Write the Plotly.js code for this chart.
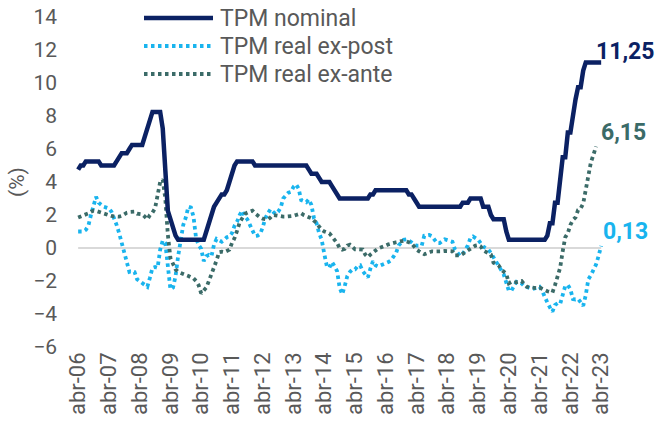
<!DOCTYPE html>
<html>
<head>
<meta charset="utf-8">
<script src="https://cdn.plot.ly/plotly-3.0.1.min.js"></script>
<style>html,body{margin:0;padding:0;background:#fff;}#chart{width:655px;height:432px;}</style>
</head>
<body>
<div id="chart"></div>
<script>
// Monthly data, abr-06 .. abr-23
var tickLabels = ['abr-06','abr-07','abr-08','abr-09','abr-10','abr-11','abr-12','abr-13','abr-14','abr-15','abr-16','abr-17','abr-18','abr-19','abr-20','abr-21','abr-22','abr-23'];

var tpmNominal = [
4.75,5.0,5.0,5.25,5.25,5.25,5.25,5.25,5.25,5.0,5.0,5.0,5.0,5.0,5.0,
5.25,5.5,5.75,5.75,5.75,6.0,6.25,6.25,6.25,6.25,6.25,6.75,7.25,7.75,8.25,8.25,8.25,8.25,
7.25,4.25,2.25,1.75,1.25,0.75,0.5,0.5,0.5,0.5,0.5,0.5,0.5,0.5,0.5,0.5,0.5,
1.0,1.5,2.0,2.5,2.75,3.0,3.25,3.25,3.5,4.0,4.5,5.0,
5.25,5.25,5.25,5.25,5.25,5.25,5.25,
5.0,5.0,5.0,5.0,5.0,5.0,5.0,5.0,5.0,5.0,5.0,5.0,5.0,5.0,5.0,5.0,5.0,5.0,5.0,5.0,5.0,
4.75,4.5,4.5,4.5,4.25,4.0,4.0,4.0,4.0,3.75,3.5,3.25,
3.0,3.0,3.0,3.0,3.0,3.0,3.0,3.0,3.0,3.0,3.0,3.0,
3.25,3.25,3.5,3.5,3.5,3.5,3.5,3.5,3.5,3.5,3.5,3.5,3.5,3.5,3.5,
3.25,3.25,3.0,2.75,
2.5,2.5,2.5,2.5,2.5,2.5,2.5,2.5,2.5,2.5,2.5,2.5,2.5,2.5,2.5,2.5,2.5,
2.75,2.75,2.75,3.0,3.0,3.0,3.0,3.0,2.5,2.5,2.5,2.0,1.75,1.75,1.75,1.75,1.75,1.0,
0.5,0.5,0.5,0.5,0.5,0.5,0.5,0.5,0.5,0.5,0.5,0.5,0.5,0.5,0.5,
0.75,1.5,1.5,2.75,2.75,4.0,5.5,5.5,7.0,7.0,8.25,9.0,9.75,9.75,10.75,
11.25,11.25,11.25,11.25,11.25,11.25,11.25
];

var tpmRealExPost = [
1.0,1.0,1.0,1.1,1.35,2.0,2.6,3.1,2.75,2.6,2.5,2.45,2.4,2.2,1.85,
1.4,0.9,0.3,-0.3,-0.9,-1.45,-1.4,-1.45,-1.9,-2.0,-2.1,-2.2,-2.35,-1.8,-1.2,-1.15,-1.2,-0.1,
0.45,0.3,-1.3,-2.5,-2.4,-1.7,-0.5,0.5,1.4,1.85,2.5,2.45,1.9,0.6,0.18,-0.05,-0.8,
-0.5,-0.42,-0.5,0.2,0.55,0.45,0.38,0.5,0.65,0.7,0.9,1.35,
1.6,2.0,2.26,1.9,1.74,1.4,1.0,
0.73,0.75,0.85,1.25,1.8,2.1,2.35,2.2,2.06,2.2,2.45,3.0,3.2,3.35,3.4,3.7,3.85,3.6,2.9,2.85,2.77,
2.95,2.6,1.8,1.5,0.9,0.5,-0.35,-1.1,-1.2,-0.85,-1.1,-1.4,
-2.4,-2.8,-2.3,-1.7,-1.45,-1.3,-1.3,-1.1,-1.05,-1.4,-1.6,-1.78,
-1.25,-0.8,-1.05,-1.12,-1.05,-1.0,-0.95,-0.85,-0.75,-0.5,-0.3,0.15,0.35,0.5,0.53,
0.47,0.35,0.22,0.14,
0.14,0.14,0.74,0.77,0.79,0.72,0.5,0.3,0.3,0.45,0.53,0.48,0.42,0.38,-0.1,-0.3,-0.48,
-0.35,-0.1,0.15,0.6,0.7,0.6,0.5,0.3,0.08,0.0,-0.1,-0.3,-0.55,-0.8,-1.05,-1.3,-1.6,-2.1,
-2.6,-2.58,-2.3,-2.05,-2.1,-2.15,-2.3,-2.38,-2.45,-2.49,-2.45,-2.41,-2.35,-2.6,-3.0,
-3.3,-3.6,-3.86,-3.45,-3.35,-3.4,-2.85,-2.3,-2.25,-2.5,-3.1,-3.12,-3.08,-3.3,-3.5,
-2.85,-1.9,-1.65,-1.35,-1.0,-0.48,0.13
];

var tpmRealExAnte = [
1.85,1.9,2.0,2.05,2.1,2.2,2.26,2.25,2.2,2.12,2.06,2.0,1.97,1.94,1.92,
1.9,1.9,1.95,2.05,2.14,2.18,2.2,2.2,2.08,2.06,2.04,1.9,1.74,2.0,2.15,2.4,3.3,4.0,
4.15,3.0,0.8,-0.6,-0.95,-1.3,-1.45,-1.5,-1.55,-1.62,-1.7,-1.78,-1.84,-2.0,-2.25,-2.75,-2.6,
-2.4,-2.0,-1.6,-1.3,-0.75,-0.25,-0.22,-0.25,-0.2,-0.1,0.3,0.6,
1.05,1.55,1.8,2.05,2.15,2.2,2.26,
2.1,1.95,1.86,1.78,1.72,1.72,1.85,2.0,1.98,1.94,1.92,1.9,1.9,1.9,1.9,1.95,2.0,2.05,2.1,2.0,1.95,
1.9,1.8,1.65,1.54,1.3,1.1,1.0,0.95,0.89,0.7,0.53,0.3,
0.0,-0.1,-0.05,0.15,0.2,0.05,-0.08,-0.08,-0.08,-0.1,-0.4,-0.55,
-0.4,-0.3,-0.15,-0.03,0.05,0.1,0.15,0.22,0.28,0.32,0.35,0.38,0.41,0.44,0.4,
0.33,0.28,0.1,-0.1,
-0.2,-0.3,-0.38,-0.32,-0.25,-0.2,-0.21,-0.22,-0.22,-0.2,-0.18,-0.17,-0.18,-0.2,-0.45,-0.47,-0.45,
-0.35,-0.25,-0.1,0.0,0.1,0.15,0.18,0.1,-0.15,-0.25,-0.32,-0.4,-0.89,-0.95,-1.05,-1.3,-1.45,-1.57,
-2.14,-2.05,-2.1,-2.05,-2.0,-2.0,-2.2,-2.35,-2.38,-2.4,-2.42,-2.44,-2.4,-2.45,-2.55,
-2.62,-2.67,-2.7,-2.25,-1.75,-1.2,-0.2,0.65,0.9,1.4,1.7,1.85,2.3,2.4,2.7,
3.6,4.5,5.2,5.65,6.15
];

var seriesNames = ['TPM nominal','TPM real ex-post','TPM real ex-ante'];
var colors = ['#0B2163','#19B4EE','#3B6B68'];
var labelTexts = ['11,25','6,15','0,13'];

function idx(arr){ return arr.map(function(_, i){ return i; }); }

var dotDash = '3.5px,3.5px';
var traces = [
  {x: idx(tpmNominal), y: tpmNominal, name: seriesNames[0], type: 'scatter', mode: 'lines',
   line: {color: colors[0], width: 4.5}, hoverinfo: 'skip'},
  {x: idx(tpmRealExPost), y: tpmRealExPost, name: seriesNames[1], type: 'scatter', mode: 'lines',
   line: {color: colors[1], width: 3.8, dash: dotDash}, hoverinfo: 'skip'},
  {x: idx(tpmRealExAnte), y: tpmRealExAnte, name: seriesNames[2], type: 'scatter', mode: 'lines',
   line: {color: colors[2], width: 3.8, dash: dotDash}, hoverinfo: 'skip'}
];
// draw order: dotted below nominal
traces = [traces[1], traces[2], traces[0]];

var W = 655, H = 432, L = 73, R = 0, T = 17, B = 85;
var pw = W - L - R, ph = H - T - B;
function px2paperX(p){ return (p - L) / pw; }
function px2paperY(p){ return (H - B - p) / ph; }

var tickVals = tickLabels.map(function(_, k){ return k * 12; });
var lastN = tpmNominal.length - 1;

var fontFam = 'Roboto, "Open Sans", sans-serif';
var gray = '#595959';

var shapes = [
  {type: 'line', xref: 'x', yref: 'y', x0: 0, x1: lastN, y0: 0, y1: 0, layer: 'below',
   line: {color: '#D9D9D9', width: 2}}
];
var annotations = [];
// legend (drawn manually)
var legRows = [18, 46, 74];
var legStyles = [{w: 4.5, dash: 'solid'}, {w: 3.8, dash: dotDash}, {w: 3.8, dash: dotDash}];
[0, 1, 2].forEach(function(s, r){
  shapes.push({type: 'line', xref: 'paper', yref: 'paper',
    x0: px2paperX(144), x1: px2paperX(213), y0: px2paperY(legRows[r]), y1: px2paperY(legRows[r]),
    line: {color: colors[s], width: legStyles[s].w, dash: legStyles[s].dash}});
  annotations.push({xref: 'paper', yref: 'paper', x: px2paperX(218), y: px2paperY(legRows[r]),
    xanchor: 'left', yanchor: 'middle', showarrow: false, text: seriesNames[s],
    font: {family: fontFam, size: 23, color: gray}});
});
// end labels
var ends = [
  {arr: tpmNominal, c: colors[0], t: labelTexts[0], xs: -7, ys: 11},
  {arr: tpmRealExAnte, c: colors[2], t: labelTexts[1], xs: 3, ys: 14},
  {arr: tpmRealExPost, c: colors[1], t: labelTexts[2], xs: 0, ys: 14}
];
ends.forEach(function(e){
  annotations.push({xref: 'x', yref: 'y', x: e.arr.length - 1, y: e.arr[e.arr.length - 1],
    xanchor: 'left', yanchor: 'middle', xshift: e.xs, yshift: e.ys, showarrow: false,
    text: '<b>' + e.t + '</b>', font: {family: fontFam, size: 23, color: e.c}});
});

var layout = {
  width: W, height: H,
  margin: {l: L, r: R, t: T, b: B, pad: 0},
  paper_bgcolor: '#ffffff', plot_bgcolor: '#ffffff',
  showlegend: false,
  font: {family: fontFam, color: gray, size: 21},
  xaxis: {
    type: 'linear', range: [-2, 225], showgrid: false, zeroline: false, showline: false,
    tickmode: 'array', tickvals: tickVals, ticktext: tickLabels, tickangle: -90,
    ticks: '', tickfont: {family: fontFam, size: 22, color: gray}, fixedrange: true
  },
  yaxis: {
    range: [-6, 14], dtick: 2, showgrid: false, zeroline: false, showline: false, ticks: '',
    tickfont: {family: fontFam, size: 21, color: gray}, ticklabelstandoff: 15,
    title: {text: '(%)', font: {family: fontFam, size: 21, color: gray}, standoff: 2},
    fixedrange: true
  },
  shapes: shapes,
  annotations: annotations
};

Plotly.newPlot('chart', traces, layout, {displayModeBar: false, staticPlot: true});
</script>
</body>
</html>
